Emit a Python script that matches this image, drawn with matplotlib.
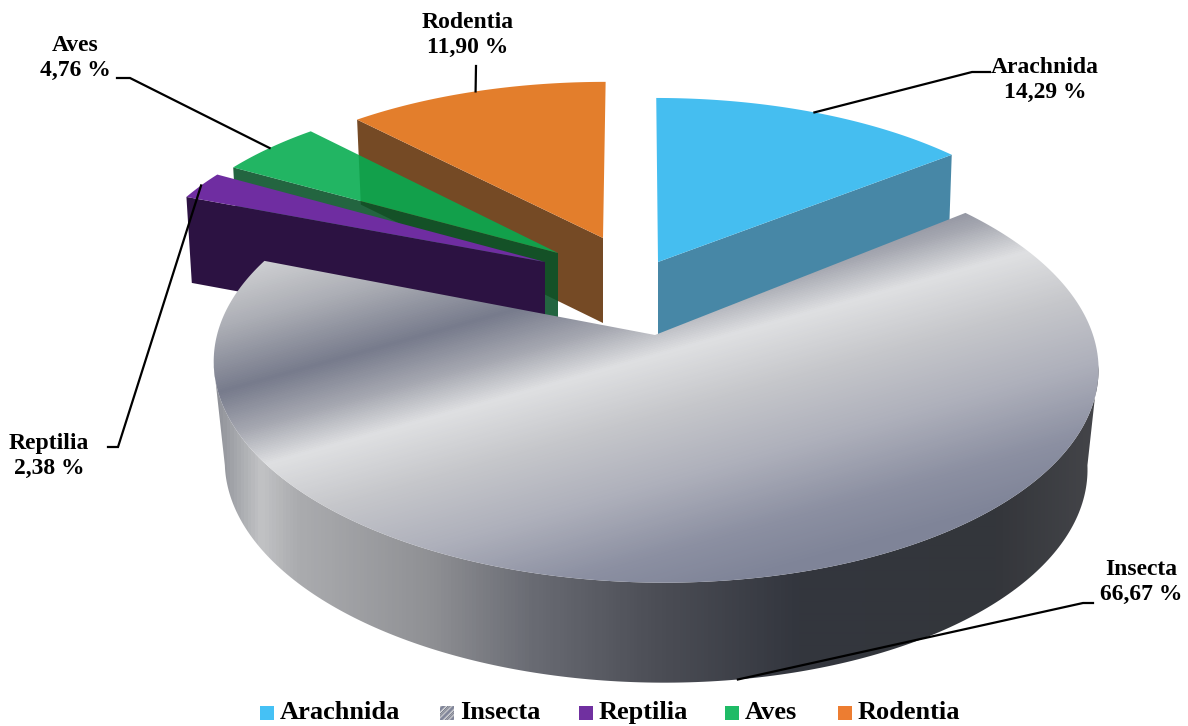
import numpy as np
import matplotlib
matplotlib.use("Agg")
import matplotlib.pyplot as plt
from matplotlib.patches import Polygon, Rectangle
from matplotlib.colors import LinearSegmentedColormap

# Share of each group, in percent, in clockwise order from twelve o'clock
categories = ["Arachnida", "Insecta", "Reptilia", "Aves", "Rodentia"]
percentages = [14.29, 66.67, 2.38, 4.76, 11.90]

plt.rcParams["font.family"] = ["Liberation Serif", "DejaVu Serif"]
plt.rcParams["font.weight"] = "bold"

# Geometry of the exploded 3D pie, in pixel coordinates of the canvas
PERSPECTIVE = 0.14
slice_style = {
    #            apex         R    Q    depth tilt  bottom-scale
    "Arachnida": ((658, 262), 410, 187, 85, -2, 0.99),
    "Insecta":   ((655, 335), 438, 213, 100, -8, 0.975),
    "Reptilia":  ((545, 262), 405, 187, 86, 0, 0.985),
    "Aves":      ((558, 253), 402, 183, 85, 1, 0.985),
    "Rodentia":  ((603, 238), 402, 178, 85, 3, 0.985),
}
top_colors = {"Arachnida": "#45BEF0", "Reptilia": "#6F2DA1",
              "Aves": "#06AC50", "Rodentia": "#E37E2C"}
wall_colors = {"Arachnida": "#4787A6", "Reptilia": "#2C1242",
               "Aves": "#085228", "Rodentia": "#754A25"}
slice_alpha = {"Aves": 0.89}
legend_colors = {"Arachnida": "#45C1F5", "Reptilia": "#7030A0",
                 "Aves": "#1FBB66", "Rodentia": "#ED7D31"}
swatch_x = [260, 440, 579, 725, 838]

label_centres = {"Arachnida": (1045, 80), "Insecta": (1141, 582),
                 "Reptilia": (49, 456), "Aves": (75, 58), "Rodentia": (468, 35)}
# Leader lines run from the label through an elbow to the slice rim
leader_elbows = {"Arachnida": [(990, 72), (972, 72)],
                 "Insecta": [(1093, 603), (1083, 603)],
                 "Reptilia": [(108, 447), (118, 447)],
                 "Aves": [(117, 78), (130, 78)],
                 "Rodentia": [(476, 66), (476, 66)]}

fig = plt.figure(figsize=(11.88, 7.26), dpi=100, facecolor="white")
ax = fig.add_axes([0, 0, 1, 1])
ax.set_axis_off()

fractions = np.array(percentages) / sum(percentages)
ends = np.cumsum(fractions) * 2 * np.pi
starts = ends - fractions * 2 * np.pi
spans = {c: (a, b) for c, a, b in zip(categories, starts, ends)}


def project(name, theta, lower=False):
    """Perspective projection of rim points of a slice onto the canvas."""
    (ax0, ay0), R, Q, depth, tilt, scale = slice_style[name]
    theta = np.asarray(theta, dtype=float)
    u, v = np.sin(theta), np.cos(theta)
    s = 1.0 / (1.0 + PERSPECTIVE * v)
    if lower:
        x = ax0 + scale * R * u * s + tilt * v * s
        y = ay0 + depth - Q * v * s
    else:
        x = ax0 + R * u * s + tilt * v * s
        y = ay0 - Q * v * s
    return np.column_stack([x, y])


def apex(name, lower=False):
    (ax0, ay0), _, _, depth, _, _ = slice_style[name]
    return np.array([[ax0, ay0 + (depth if lower else 0)]])


def flat_slice(name, zorder):
    """Top face and the visible cut wall of a plain coloured slice."""
    a, b = spans[name]
    arc = project(name, np.linspace(a, b, 80))
    alpha = slice_alpha.get(name, 1.0)
    # The wall facing the viewer depends on which side of the pie the slice sits
    t = a if name != "Arachnida" else b
    wall = np.vstack([apex(name), project(name, [t]),
                      project(name, [t], True), apex(name, True)])
    ax.add_patch(Polygon(wall, closed=True, fc=wall_colors[name], ec="none",
                         alpha=alpha, zorder=zorder))
    ax.add_patch(Polygon(np.vstack([apex(name), arc]), closed=True,
                         fc=top_colors[name], ec="none", alpha=alpha,
                         zorder=zorder + 0.5))


flat_slice("Rodentia", 1)
flat_slice("Aves", 2)
flat_slice("Reptilia", 3)
flat_slice("Arachnida", 4)

# Brushed metal shading of the large slice: its curved wall runs left to right
wall_map = LinearSegmentedColormap.from_list("wall", [
    (0.00, "#85878F"), (0.06, "#C2C3C5"), (0.10, "#ABACAF"), (0.25, "#8F9094"),
    (0.36, "#6A6C74"), (0.50, "#4C4E56"), (0.66, "#33363E"), (0.88, "#34363B"),
    (1.00, "#45464A")])
a, b = spans["Insecta"]
wall_theta = np.linspace(np.radians(98), np.radians(262), 200)
wall_outline = np.vstack([project("Insecta", wall_theta),
                          project("Insecta", wall_theta[::-1], True)])
wall_patch = Polygon(wall_outline, closed=True, fc="none", ec="none", zorder=6)
ax.add_patch(wall_patch)
wall_image = ax.imshow(np.linspace(0, 1, 900).reshape(1, -1), cmap=wall_map,
                       vmin=0, vmax=1, extent=(205, 1105, 700, 300),
                       aspect="auto", zorder=6, interpolation="bilinear")
wall_image.set_clip_path(wall_patch)

# The top face carries diagonal bands of light and shade
metal_stops = [(-210, "#D2D3D5"), (-150, "#ACAEB5"), (-85, "#777B8C"),
               (-40, "#A6A8B1"), (0, "#DFE0E2"), (60, "#C6C7CB"),
               (130, "#AEB0BB"), (200, "#8C90A2"), (250, "#7F8498")]
lo, hi = metal_stops[0][0], metal_stops[-1][0]
metal_map = LinearSegmentedColormap.from_list(
    "metal", [((d - lo) / (hi - lo), c) for d, c in metal_stops])
gx, gy = np.meshgrid(np.arange(200, 1110), np.arange(200, 600))
band = (gy + 0.279 * gx - 537.5 - lo) / (hi - lo)
image = ax.imshow(np.clip(band, 0, 1), cmap=metal_map, vmin=0, vmax=1,
                  extent=(200, 1110, 600, 200), aspect="auto", zorder=7,
                  interpolation="bilinear")
top_face = Polygon(np.vstack([apex("Insecta"),
                              project("Insecta", np.linspace(a, b, 300))]),
                   closed=True, fc="none", ec="none", zorder=7)
ax.add_patch(top_face)
image.set_clip_path(top_face)

# Leader lines and value labels
for name, value in zip(categories, percentages):
    mid = np.mean(spans[name])
    rim = project(name, [mid], lower=(name == "Insecta"))[0]
    pts = np.array(leader_elbows[name] + [tuple(rim)])
    ax.plot(pts[:, 0], pts[:, 1], color="black", lw=1.6, zorder=9,
            solid_joinstyle="miter")
    cx, cy = label_centres[name]
    ax.text(cx, cy, f"{name}\n" + f"{value:.2f}".replace(".", ",") + " %",
            ha="center", va="center", fontsize=17, linespacing=1.3,
            color="black", zorder=10)

# Legend row
for name, x0 in zip(categories, swatch_x):
    if name == "Insecta":
        sx, sy = np.meshgrid(np.linspace(0, 1, 14), np.linspace(0, 1, 14))
        ax.imshow((np.sin((sx + sy) * 7.5) + 1) / 2, cmap=metal_map,
                  extent=(x0, x0 + 14, 720, 706), aspect="auto",
                  zorder=8, vmin=-0.2, vmax=1.0)
    else:
        ax.add_patch(Rectangle((x0, 706), 14, 14, fc=legend_colors[name],
                               ec="none", zorder=8))
    ax.text(x0 + 20, 712.5, name, ha="left", va="center", fontsize=19,
            color="black", zorder=10)

ax.set_xlim(0, 1188)
ax.set_ylim(726, 0)
fig.savefig("out.png", dpi=100, facecolor="white")
